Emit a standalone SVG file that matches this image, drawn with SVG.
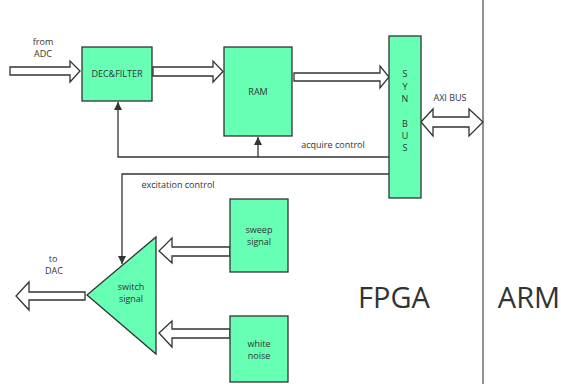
<svg xmlns="http://www.w3.org/2000/svg" width="561" height="384" viewBox="0 0 561 384">
<style>
.node{fill:#66ffb3;stroke:#333;stroke-width:1.3}
.barrow{fill:#fff;stroke:#333;stroke-width:1.3;stroke-linejoin:miter}
.line{fill:none;stroke:#333;stroke-width:1.3}
text{font-family:"Open Sans","Noto Sans","Liberation Sans",sans-serif;fill:#333;text-anchor:middle}
.s{font-size:9px}
.big{font-size:29px}
</style>
<defs>
<marker id="ah" viewBox="0 0 10 10" refX="10" refY="5" markerWidth="8" markerHeight="8" markerUnits="userSpaceOnUse" orient="auto">
<path d="M0,0 L10,5 L0,10 Z" fill="#333"/>
</marker>
</defs>
<rect width="561" height="384" fill="#fff"/>
<line x1="483" y1="0" x2="483" y2="384" stroke="#555" stroke-width="1.3"/>
<g id="connectors">
<polygon class="barrow" points="10,67 70,67 70,61 80,71 70,82 70,75 10,75"/>
<polygon class="barrow" points="153,67 213,67 213,61 223,71.5 213,82 213,76 153,76"/>
<polygon class="barrow" points="294,73 380,73 380,66 389,77 380,88 380,81 294,81"/>
<polygon class="barrow" points="421,122 433,109 433,117 469,117 469,109 483,122 469,136 469,127 433,127 433,136"/>
<polygon class="barrow" points="230,247 172,247 172,238 159,251 172,263 172,256 230,256"/>
<polygon class="barrow" points="230,329 172,329 172,321 159,333 172,347 172,338 230,338"/>
<polygon class="barrow" points="85,292 29,292 29,282 16,296 29,310 29,300 85,300"/>
<polyline class="line" points="389,157 118,157 118,102" marker-end="url(#ah)"/>
<line class="line" x1="258" y1="157" x2="258" y2="137" marker-end="url(#ah)"/>
<polyline class="line" points="389,174 122,174 122,264" marker-end="url(#ah)"/>
</g>
<g id="labels">
<text class="s" x="43" y="45">from</text>
<text class="s" x="43" y="57">ADC</text>
<text class="s" x="450" y="101">AXI BUS</text>
<text class="s" x="333" y="148">acquire control</text>
<text class="s" x="178" y="188">excitation control</text>
<text class="s" x="53" y="262">to</text>
<text class="s" x="54" y="274">DAC</text>
<text class="big" x="394" y="308">FPGA</text>
<text class="big" x="529" y="308">ARM</text>
</g>
<g id="dec">
<rect class="node" x="82" y="47" width="70" height="54"/>
<text class="s" x="117" y="77">DEC&amp;FILTER</text>
</g>
<g id="ram">
<rect class="node" x="224" y="47" width="68" height="89"/>
<text class="s" x="258" y="95">RAM</text>
</g>
<g id="synbus">
<rect class="node" x="389" y="36" width="32" height="162"/>
<text class="s" x="405" y="77">S</text>
<text class="s" x="405" y="90">Y</text>
<text class="s" x="405" y="102">N</text>
<text class="s" x="405" y="127">B</text>
<text class="s" x="405" y="139">U</text>
<text class="s" x="405" y="151">S</text>
</g>
<g id="switch">
<polygon class="node" points="87,295 156,237 156,354"/>
<text class="s" x="131" y="290">switch</text>
<text class="s" x="131" y="302">signal</text>
</g>
<g id="sweep">
<rect class="node" x="230" y="199" width="58" height="73"/>
<text class="s" x="259" y="233">sweep</text>
<text class="s" x="259" y="245">signal</text>
</g>
<g id="noise">
<rect class="node" x="230" y="316" width="58" height="66"/>
<text class="s" x="259" y="347">white</text>
<text class="s" x="259" y="359">noise</text>
</g>
</svg>
